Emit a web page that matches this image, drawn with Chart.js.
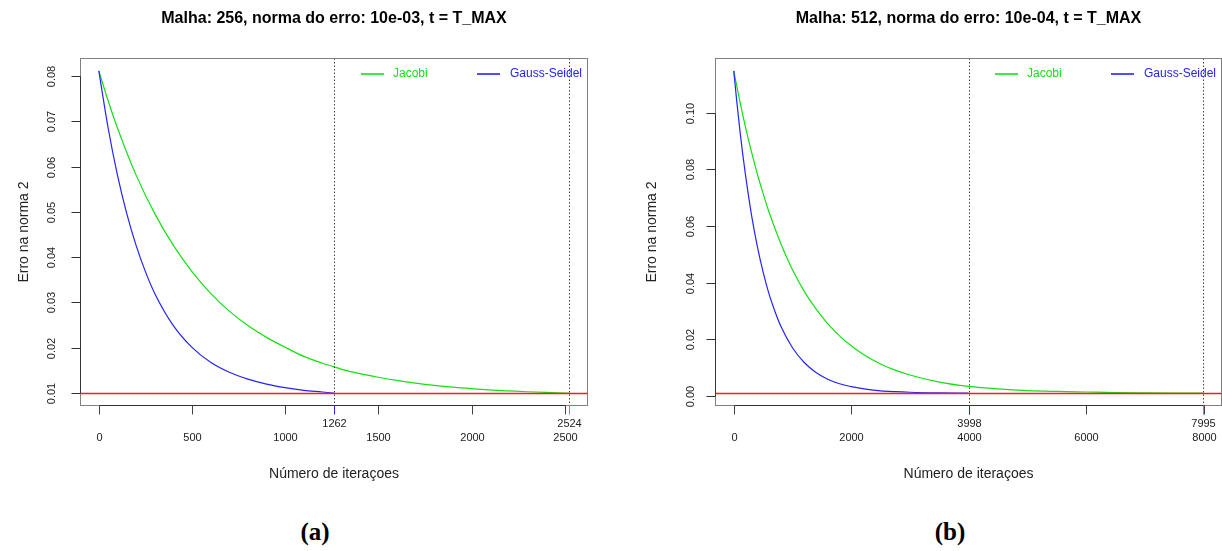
<!DOCTYPE html>
<html><head><meta charset="utf-8">
<script src="https://cdn.jsdelivr.net/npm/chart.js@4.4.1/dist/chart.umd.min.js"></script>
<style>
html,body{margin:0;padding:0;background:#fff;}
#wrap{position:relative;width:1222px;height:551px;overflow:hidden;background:#fff;}
canvas{position:absolute;top:0;}
.cap{position:absolute;top:518px;line-height:28px;font:bold 25px "Liberation Serif","DejaVu Serif",serif;transform:translateX(-50%);color:#000;}
</style></head><body>
<div id="wrap">
<canvas id="ca" width="611" height="500" style="left:0"></canvas>
<canvas id="cb" width="611" height="500" style="left:611px"></canvas>
<div class="cap" style="left:315px">(a)</div>
<div class="cap" style="left:950px">(b)</div>
</div>
<script>
// ---------- Panel (a): Malha 256 ----------
const titleA = "Malha: 256, norma do erro: 10e-03, t = T_MAX";
const iterA_jacobi = [0,50,100,200,300,400,500,600,700,800,900,1000,1100,1200,1262,1300,1400,1500,1600,1700,1800,1900,2000,2100,2200,2300,2400,2500,2524];
const errA_jacobi  = [0.0811,0.0745,0.0685,0.0581,0.0496,0.0426,0.0368,0.0320,0.0281,0.0249,0.0223,0.0201,0.0181,0.0166,0.0158,0.0153,0.0143,0.0135,0.0128,0.0122,0.0117,0.0113,0.0110,0.0107,0.0105,0.0103,0.01015,0.01003,0.0100];
const iterA_gs = [0,50,100,150,200,250,300,400,500,600,700,800,900,1000,1100,1200,1262];
const errA_gs  = [0.0811,0.0685,0.0581,0.0496,0.0426,0.0368,0.0320,0.0249,0.0201,0.0168,0.0146,0.0131,0.0120,0.0112,0.0106,0.01025,0.0100];
const threshA = 0.01;
const convA = [1262, 2524];           // Gauss-Seidel, Jacobi
const xTicksA = [0,500,1000,1500,2000,2500];
const yTicksA = [0.01,0.02,0.03,0.04,0.05,0.06,0.07,0.08];
const yLabelsA = ["0.01","0.02","0.03","0.04","0.05","0.06","0.07","0.08"];

// ---------- Panel (b): Malha 512 ----------
const titleB = "Malha: 512, norma do erro: 10e-04, t = T_MAX";
const iterB_jacobi = [0,100,200,300,400,500,600,800,1000,1200,1400,1600,1800,2000,2250,2500,2750,3000,3500,4000,4500,5000,5500,6000,6500,7000,7500,7995];
const errB_jacobi  = [0.1147,0.1043,0.0948,0.0863,0.0784,0.0714,0.0649,0.0538,0.0445,0.0369,0.0307,0.0255,0.0212,0.0177,0.0141,0.0113,0.0091,0.0074,0.0049,0.0034,0.0025,0.0019,0.0016,0.0014,0.0012,0.0011,0.00104,0.0010];
const iterB_gs = [0,50,100,150,200,300,400,500,600,700,800,1000,1200,1400,1600,1800,2000,2250,2500,2750,3000,3500,3998];
const errB_gs  = [0.1147,0.1041,0.0945,0.0857,0.0779,0.0641,0.0529,0.0437,0.0360,0.0299,0.0247,0.0170,0.0118,0.0083,0.0059,0.0043,0.0033,0.0024,0.0018,0.0015,0.0013,0.0011,0.0010];
const threshB = 0.001;
const convB = [3998, 7995];
const xTicksB = [0,2000,4000,6000,8000];
const yTicksB = [0,0.02,0.04,0.06,0.08,0.10];
const yLabelsB = ["0.00","0.02","0.04","0.06","0.08","0.10"];

const seriesNames = ["Jacobi","Gauss-Seidel"];
const xTitle = "Número de iteraçoes";
const yTitle = "Erro na norma 2";

const GREEN = "#14e014";
const BLUE = "#2323ff";
const RED = "#ff1a1a";
const SANS = '"Liberation Sans", Arial, Helvetica, sans-serif';

function pts(xs, ys){ return xs.map((v,i)=>({x:v,y:ys[i]})); }
function rRange(lo, hi){ const d=(hi-lo)*0.04; return [lo-d, hi+d]; }

function rPlot(c){
  return {
    id:'rplot',
    afterDatasetsDraw(chart){
      const ctx = chart.ctx, a = chart.chartArea, x = chart.scales.x, y = chart.scales.y;
      const L=Math.round(a.left)+0.5, R=Math.round(a.right)-0.5, T=Math.round(a.top)+0.5, B=Math.round(a.bottom)-0.5;
      const ln=(col,x1,y1,x2,y2)=>{ctx.strokeStyle=col;ctx.beginPath();ctx.moveTo(x1,y1);ctx.lineTo(x2,y2);ctx.stroke();};
      ctx.save();
      // dotted verticals at convergence
      ctx.setLineDash([1.5,2]); ctx.lineWidth=1;
      c.conv.forEach(v=>{const px=Math.round(x.getPixelForValue(v))+0.5; ln('#444',px,T,px,B);});
      ctx.setLineDash([]);
      // box
      ctx.strokeStyle='#808080'; ctx.lineWidth=1;
      ctx.strokeRect(L,T,R-L,B-T);
      // y axis
      ctx.fillStyle='#222';
      const yp = c.yTicks.map(v=>Math.round(y.getPixelForValue(v))+0.5);
      ln('#333',L,yp[0],L,yp[yp.length-1]);
      ctx.font='11px '+SANS; ctx.textAlign='center'; ctx.textBaseline='middle';
      yp.forEach((py,i)=>{
        ln('#333',L-9,py,L,py);
        ctx.save(); ctx.translate(L-c.yLabOff,py); ctx.rotate(-Math.PI/2); ctx.fillText(c.yLabels[i],0,0); ctx.restore();
      });
      // x axis
      const xp = c.xTicks.map(v=>Math.round(x.getPixelForValue(v))+0.5);
      ln('#333',xp[0],B,xp[xp.length-1],B);
      xp.forEach((px,i)=>{ ln('#444',px,B,px,B+9); ctx.fillText(String(c.xTicks[i]),px,438); });
      // convergence ticks
      c.conv.forEach((v,i)=>{
        const px=Math.round(x.getPixelForValue(v))+0.5;
        ln(i===0?BLUE:GREEN,px,B,px,B+9);
        ctx.fillStyle='#222'; ctx.fillText(String(v),px,424);
      });
      // axis titles
      ctx.fillStyle='#222'; ctx.font='14px '+SANS;
      const cx=(L+R)/2;
      ctx.fillText(xTitle,cx,474);
      ctx.save(); ctx.translate(c.yTitleX,(T+B)/2); ctx.rotate(-Math.PI/2); ctx.fillText(yTitle,0,0); ctx.restore();
      // main title
      ctx.fillStyle='#000'; ctx.font='bold 16px '+SANS;
      ctx.fillText(c.title,cx,19);
      // legend
      ctx.lineWidth=1.6; ctx.textAlign='left'; ctx.font='12px '+SANS;
      const ly=74;
      ln(GREEN,a.right-227,ly,a.right-204,ly);
      ctx.fillStyle=GREEN; ctx.fillText(seriesNames[0],a.right-195,ly);
      ln(BLUE,a.right-111,ly,a.right-88,ly);
      ctx.fillStyle=BLUE; ctx.fillText(seriesNames[1],a.right-78,ly);
      // threshold line (abline)
      const yt = Math.round(y.getPixelForValue(c.thresh))+0.5;
      ctx.lineWidth=1.3;
      ln(RED,L,yt,R,yt);
      ctx.restore();
    }
  };
}

function makeChart(id, jx, jy, gx, gy, pad, cfg){
  const allX = jx.concat(gx), allY = jy.concat(gy);
  const [xmin,xmax] = rRange(Math.min(...allX), Math.max(...allX));
  const [ymin,ymax] = rRange(Math.min(...allY), Math.max(...allY));
  new Chart(document.getElementById(id), {
    type:'line',
    data:{datasets:[
      {label:seriesNames[1], data:pts(gx,gy), borderColor:BLUE, borderWidth:1.2, pointRadius:0, cubicInterpolationMode:'monotone', fill:false},
      {label:seriesNames[0], data:pts(jx,jy), borderColor:GREEN, borderWidth:1.2, pointRadius:0, cubicInterpolationMode:'monotone', fill:false}
    ]},
    options:{
      responsive:false, animation:false, devicePixelRatio:1,
      layout:{padding:pad},
      scales:{
        x:{type:'linear', display:false, min:xmin, max:xmax},
        y:{type:'linear', display:false, min:ymin, max:ymax}
      },
      plugins:{legend:{display:false}, tooltip:{enabled:false}, title:{display:false}}
    },
    plugins:[rPlot(cfg)]
  });
}

makeChart('ca', iterA_jacobi, errA_jacobi, iterA_gs, errA_gs,
  {left:80, right:23, top:58, bottom:94},
  {title:titleA, thresh:threshA, conv:convA, xTicks:xTicksA, yTicks:yTicksA, yLabels:yLabelsA, yLabOff:29, yTitleX:24});
makeChart('cb', iterB_jacobi, errB_jacobi, iterB_gs, errB_gs,
  {left:104, right:0, top:58, bottom:94},
  {title:titleB, thresh:threshB, conv:convB, xTicks:xTicksB, yTicks:yTicksB, yLabels:yLabelsB, yLabOff:25, yTitleX:41});
</script>
</body></html>
